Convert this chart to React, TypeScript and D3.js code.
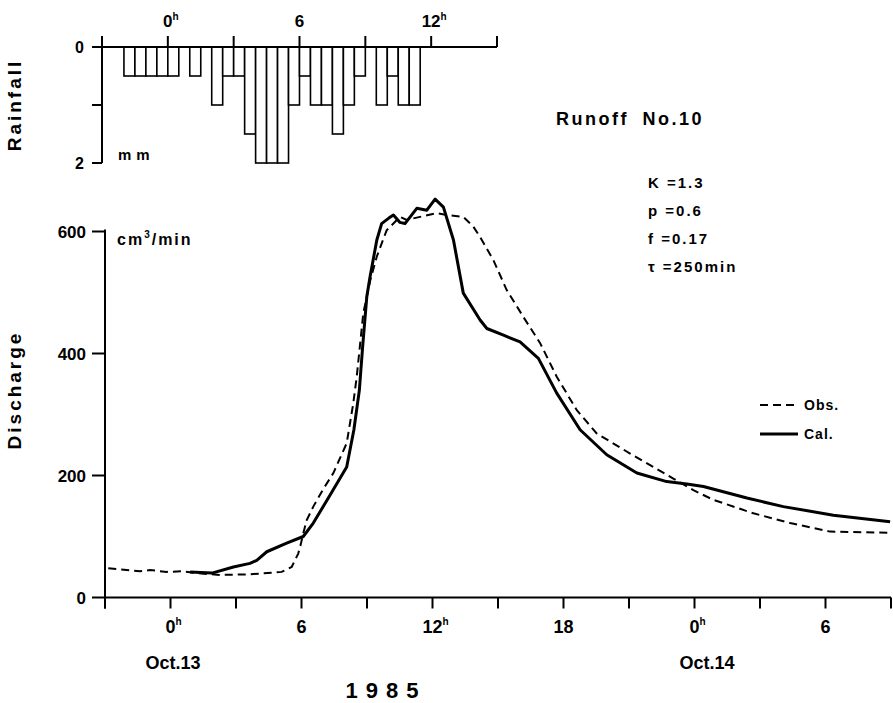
import React from "react";
import * as d3 from "d3";

// ---------- data ----------
const rainStartHour = -2; // first 30-min interval starts at -2h (Oct.13)
const rainStep = 0.5;
const rainValues = [0.5, 0.5, 0.5, 0.5, 0.5, 0, 0.5, 0, 1.0, 0.5, 0.5, 1.5, 2, 2, 2, 1.0, 0.5, 1.0, 1.0, 1.5, 1.0, 0.5, 0, 1.0, 0.5, 1.0, 1.0];

const obsHours = [-2.85, -1.4, -0.94, -0.17, 0.57, 1.2, 2.27, 3.64, 5.09, 5.55, 5.85, 5.95, 6.08, 6.24, 6.54, 7.0, 7.46, 8.07, 8.37, 8.53, 8.83, 9.15, 9.45, 9.9, 10.51, 10.82, 11.43, 12.19, 12.65, 13.41, 13.87, 14.18, 14.79, 15.4, 16.16, 16.93, 17.69, 18.61, 19.52, 21.05, 23.03, 23.95, 24.87, 26.7, 28.38, 30.21, 32.96];
const obsValues = [48, 43, 45, 42, 43, 40, 37, 38, 42, 50, 72, 85, 105, 127, 149, 178, 204, 253, 318, 362, 466, 520, 559, 602, 624, 619, 624, 630, 627, 624, 608, 591, 553, 504, 460, 417, 362, 307, 269, 236, 195, 176, 160, 138, 122, 108, 106];

const calHours = [0.9, 1.9, 2.88, 3.64, 3.95, 4.41, 5.32, 6.08, 6.54, 7.31, 8.07, 8.4, 8.65, 8.8, 8.99, 9.14, 9.45, 9.67, 10.0, 10.21, 10.5, 10.74, 11.28, 11.74, 12.12, 12.5, 12.96, 13.41, 14.18, 14.49, 15.25, 16.01, 16.85, 17.69, 18.76, 19.98, 21.36, 22.73, 23.65, 24.41, 26.4, 28.07, 30.36, 32.96];
const calValues = [42, 40, 50, 56, 61, 75, 89, 100, 122, 168, 214, 275, 340, 411, 493, 526, 586, 613, 622, 627, 615, 613, 638, 635, 653, 640, 586, 499, 455, 441, 430, 419, 392, 335, 275, 234, 204, 190, 186, 182, 163, 149, 135, 124];

const mainTickHours = d3.range(-3, 34, 3);
const mainLabelHours = [0, 6, 12, 18, 24, 30];
const mainLabelTexts = ["0", "6", "12", "18", "0", "6"];
const mainLabelSup = ["h", "", "h", "", "h", ""];
const rainTickHours = d3.range(-3, 16, 3);
const rainLabelHours = [0, 6, 12];
const rainLabelTexts = ["0", "6", "12"];
const rainLabelSup = ["h", "", "h"];
const dischargeTicks = [0, 200, 400, 600];
const rainTicks = [0, 1, 2];
const rainTickLabels = ["0", "", "2"];
const params = ["K =1.3", "p =0.6", "f =0.17", "τ =250min"];

const FONT = "'Liberation Sans', Arial, Helvetica, sans-serif";

export default function App() {
  // scales
  const x = d3.scaleLinear().domain([-3, 33]).range([105, 891]);
  const y = d3.scaleLinear().domain([0, 600]).range([597.5, 231.5]);
  const xr = d3.scaleLinear().domain([-3, 15]).range([102, 497]);
  const yr = d3.scaleLinear().domain([0, 2]).range([47, 163]);

  const line = d3
    .line<[number, number]>()
    .x((d) => x(d[0]))
    .y((d) => y(d[1]))
    .curve(d3.curveLinear);

  const obsPath = line(obsHours.map((h, i) => [h, obsValues[i]]) as [number, number][]) || "";
  const calPath = line(calHours.map((h, i) => [h, calValues[i]]) as [number, number][]) || "";

  const bars = rainValues
    .map((v, i) => ({ h: rainStartHour + i * rainStep, v }))
    .filter((d) => d.v > 0);

  return (
    <svg
      width={893}
      height={703}
      viewBox="0 0 893 703"
      style={{ position: "absolute", left: 0, top: 0, background: "#fff" }}
      fontFamily={FONT}
      fontWeight="bold"
    >
      <rect x={0} y={0} width={893} height={703} fill="#fff" />

      {/* ---------- rainfall panel ---------- */}
      <g>
        {bars.map((d, i) => (
          <rect
            key={i}
            x={xr(d.h)}
            y={yr(0)}
            width={xr(d.h + rainStep) - xr(d.h)}
            height={yr(d.v) - yr(0)}
            fill="#fff"
            stroke="#000"
            strokeWidth={1.6}
          />
        ))}
        <line x1={xr(-3)} x2={xr(15)} y1={yr(0)} y2={yr(0)} stroke="#000" strokeWidth={2} />
        {rainTickHours.map((h) => (
          <line key={h} x1={xr(h)} x2={xr(h)} y1={yr(0)} y2={yr(0) - 11} stroke="#000" strokeWidth={2} />
        ))}
        <line x1={xr(-3)} x2={xr(-3)} y1={yr(0) - 11} y2={yr(2)} stroke="#000" strokeWidth={2} />
        {rainTicks.map((t) => (
          <line key={t} x1={xr(-3) - 10} x2={xr(-3)} y1={yr(t)} y2={yr(t)} stroke="#000" strokeWidth={2} />
        ))}
        {rainTicks.map((t, i) =>
          rainTickLabels[i] ? (
            <text key={t} x={84} y={yr(t)} dy="0.36em" textAnchor="end" fontSize={16}>
              {rainTickLabels[i]}
            </text>
          ) : null
        )}
        {rainLabelHours.map((h, i) => (
          <text key={h} x={xr(h) + (rainLabelSup[i] ? 3 : 0)} y={27} textAnchor="middle" fontSize={17}>
            {rainLabelTexts[i]}
            {rainLabelSup[i] ? (
              <tspan fontSize={10} dy={-7}>
                {rainLabelSup[i]}
              </tspan>
            ) : null}
          </text>
        ))}
        <text x={118} y={160} fontSize={15} letterSpacing={5}>
          mm
        </text>
        <text
          transform={`translate(21,105) rotate(-90)`}
          textAnchor="middle"
          fontSize={19}
          letterSpacing={3}
        >
          Rainfall
        </text>
      </g>

      {/* ---------- discharge panel ---------- */}
      <g>
        <line x1={x(-3)} x2={x(-3)} y1={y(600) - 2} y2={y(0) + 11} stroke="#000" strokeWidth={2} />
        {dischargeTicks.map((t) => (
          <line key={t} x1={x(-3) - 13} x2={x(-3)} y1={y(t)} y2={y(t)} stroke="#000" strokeWidth={2} />
        ))}
        {dischargeTicks.map((t) => (
          <text key={t} x={86} y={y(t)} dy="0.36em" textAnchor="end" fontSize={17}>
            {t}
          </text>
        ))}
        <line x1={x(-3)} x2={x(33)} y1={y(0)} y2={y(0)} stroke="#000" strokeWidth={2} />
        {mainTickHours.map((h) => (
          <line key={h} x1={x(h)} x2={x(h)} y1={y(0)} y2={y(0) + 11} stroke="#000" strokeWidth={2} />
        ))}
        {mainLabelHours.map((h, i) => (
          <text key={h} x={x(h) + (mainLabelSup[i] ? 3 : 0)} y={633} textAnchor="middle" fontSize={18}>
            {mainLabelTexts[i]}
            {mainLabelSup[i] ? (
              <tspan fontSize={10} dy={-8}>
                {mainLabelSup[i]}
              </tspan>
            ) : null}
          </text>
        ))}
        <text x={173} y={669} textAnchor="middle" fontSize={18}>
          Oct.13
        </text>
        <text x={707} y={669} textAnchor="middle" fontSize={18}>
          Oct.14
        </text>
        <text x={386} y={698} textAnchor="middle" fontSize={22} letterSpacing={8}>
          1985
        </text>
        <text
          transform={`translate(21,390) rotate(-90)`}
          textAnchor="middle"
          fontSize={19}
          letterSpacing={3}
        >
          Discharge
        </text>
        <text x={117} y={245} fontSize={16} letterSpacing={2}>
          cm
          <tspan fontSize={10} dy={-7}>3</tspan>
          <tspan dy={7}>/min</tspan>
        </text>

        {/* curves */}
        <path d={obsPath} fill="none" stroke="#000" strokeWidth={2} strokeDasharray="8 5" />
        <path d={calPath} fill="none" stroke="#000" strokeWidth={3} strokeLinejoin="round" />

        {/* title and parameters */}
        <text x={556} y={125} fontSize={18} letterSpacing={2.5} wordSpacing={6}>
          Runoff No.10
        </text>
        {params.map((p, i) => (
          <text key={p} x={648} y={188 + i * 28} fontSize={15} letterSpacing={2}>
            {p}
          </text>
        ))}

        {/* legend */}
        <line x1={760} x2={798} y1={405} y2={405} stroke="#000" strokeWidth={2} strokeDasharray="8 5" />
        <text x={804} y={410} fontSize={14} letterSpacing={1}>
          Obs.
        </text>
        <line x1={760} x2={798} y1={434} y2={434} stroke="#000" strokeWidth={3} />
        <text x={804} y={439} fontSize={14} letterSpacing={1}>
          Cal.
        </text>
      </g>
    </svg>
  );
}
